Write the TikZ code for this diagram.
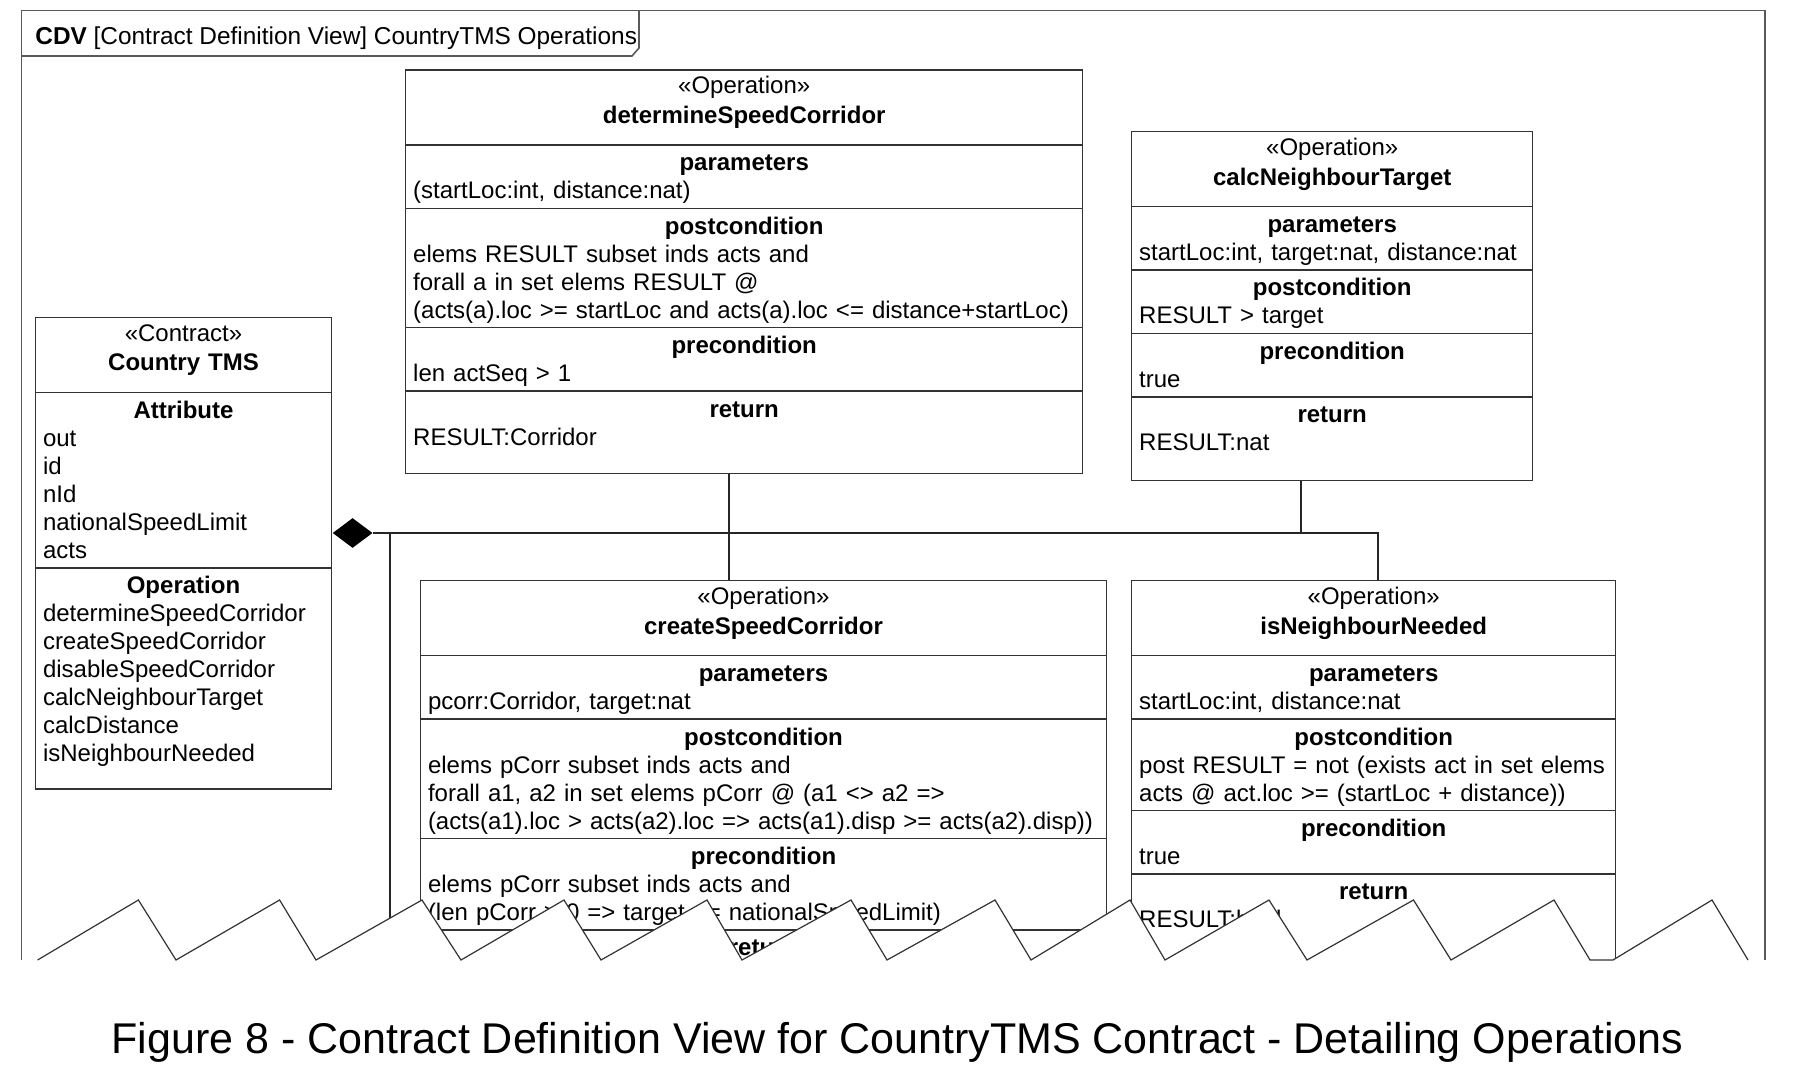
\documentclass[tikz,border=0pt]{standalone}
\usepackage{fontspec}
\setmainfont{Liberation Sans}
\usetikzlibrary{shapes.multipart,shapes.geometric}

\newcommand{\stereo}[2]{\makebox[\linewidth]{\rule{0pt}{11.5pt}«#1»}\\[0.9pt]\makebox[\linewidth]{\textbf{#2}\rule[-10.4pt]{0pt}{10.4pt}}}
\newcommand{\comphead}[1]{\makebox[\linewidth]{\rule{0pt}{12.6pt}\textbf{#1}}}
\newcommand{\lastline}[1][4.4pt]{\rule[-#1]{0pt}{#1}}

\begin{document}
\begin{tikzpicture}[x=0.5pt,y=-0.5pt,
  umlbox/.style={rectangle split, rectangle split parts=#1, draw=black!80, line width=0.7pt,
    inner xsep=3.75pt, inner ysep=0pt, align=left, anchor=north west,
    font=\fontsize{12}{14}\selectfont},
  link/.style={draw=black!85, line width=0.6pt}]
\path[fill=white, use as bounding box] (0,0) rectangle (1820,1069);

% frame
\draw[black!65, line width=0.8pt] (21.4,10.7) rectangle (1765,1000);
\draw[black!65, line width=0.8pt] (21.4,56) -- (632,56) -- (639,48) -- (639,10.7);
\node[anchor=base west, inner sep=0, font=\fontsize{12.2}{14}\selectfont] (frm) at (35,45)
  {\textbf{CDV} [Contract Definition View] CountryTMS Operations};

% contract
\node[umlbox=3, text width=140.5pt] (ctr) at (34.8,316.7)
  {\stereo{Contract}{Country TMS}
   \nodepart{two}\comphead{Attribute}\\
   out\\ id\\ nId\\ nationalSpeedLimit\\ acts\lastline
   \nodepart{three}\comphead{Operation}\\
   determineSpeedCorridor\\ createSpeedCorridor\\ disableSpeedCorridor\\
   calcNeighbourTarget\\ calcDistance\\ isNeighbourNeeded\lastline[13.3pt]};

% operations
\node[umlbox=5, text width=331pt] (det) at (405,69.3)
  {\stereo{Operation}{determineSpeedCorridor}
   \nodepart{two}\comphead{parameters}\\
   (startLoc:int, distance:nat)\lastline
   \nodepart{three}\comphead{postcondition}\\
   elems RESULT subset inds acts and\\
   forall a in set elems RESULT @\\
   (acts(a).loc >= startLoc and acts(a).loc <= distance+startLoc)\lastline
   \nodepart{four}\comphead{precondition}\\
   len actSeq > 1\lastline
   \nodepart{five}\comphead{return}\\
   RESULT:Corridor\lastline[13.8pt]};

\node[umlbox=5, text width=193pt] (cnt) at (1131,131)
  {\stereo{Operation}{calcNeighbourTarget}
   \nodepart{two}\comphead{parameters}\\
   startLoc:int, target:nat, distance:nat\lastline
   \nodepart{three}\comphead{postcondition}\\
   RESULT > target\lastline
   \nodepart{four}\comphead{precondition}\\
   true\lastline
   \nodepart{five}\comphead{return}\\
   RESULT:nat\lastline[14.4pt]};

\node[umlbox=5, text width=335.5pt] (crt) at (419.8,580)
  {\stereo{Operation}{createSpeedCorridor}
   \nodepart{two}\comphead{parameters}\\
   pcorr:Corridor, target:nat\lastline
   \nodepart{three}\comphead{postcondition}\\
   elems pCorr subset inds acts and\\
   forall a1, a2 in set elems pCorr @ (a1 <> a2 =>\\
   (acts(a1).loc > acts(a2).loc => acts(a1).disp >= acts(a2).disp))\lastline
   \nodepart{four}\comphead{precondition}\\
   elems pCorr subset inds acts and\\
   (len pCorr > 0 => target <= nationalSpeedLimit)\lastline
   \nodepart{five}\comphead{return}\lastline[20pt]};

\node[umlbox=5, text width=234.5pt] (inn) at (1131,580)
  {\stereo{Operation}{isNeighbourNeeded}
   \nodepart{two}\comphead{parameters}\\
   startLoc:int, distance:nat\lastline
   \nodepart{three}\comphead{postcondition}\\
   post RESULT = not (exists act in set elems\\
   acts @ act.loc >= (startLoc + distance))\lastline
   \nodepart{four}\comphead{precondition}\\
   true\lastline
   \nodepart{five}\comphead{return}\\
   RESULT:bool\lastline[30pt]};

% composition
\node[diamond, fill=black, inner sep=0pt, minimum width=20pt, minimum height=15pt, anchor=west]
  (dia) at (ctr.east |- 0,533) {};
\coordinate (j1) at (729,533);
\coordinate (j2) at (1301,533);
\coordinate (j3) at (1378,533);
\coordinate (cut) at (390,1000);
\draw[link] (dia.east) -| (cut);
\draw[link] (dia.east) -| (det.south -| j1);
\draw[link] (dia.east) -| (crt.north -| j1);
\draw[link] (dia.east) -| (cnt.south -| j2);
\draw[link] (dia.east) -| (inn.north -| j3);

% torn edge
\fill[white] (0,960) -- (37.6,960)
  \foreach \a/\p/\v in {37.6/138.4/176,176/279.6/316,316/422/461,461/564/601,601/707/742,742/851/887,
    887/995/1031,1031/1130/1165,1165/1269/1307,1307/1413.5/1451,1451/1554/1590,1613/1712/1748}
    { -- (\a,960) -- (\p,900) -- (\v,960) }
  -- (1820,960) -- (1820,1015) -- (0,1015) -- cycle;
\draw[black!80, line width=0.6pt] (37.6,960)
  \foreach \a/\p/\v in {37.6/138.4/176,176/279.6/316,316/422/461,461/564/601,601/707/742,742/851/887,
    887/995/1031,1031/1130/1165,1165/1269/1307,1307/1413.5/1451,1451/1554/1590,1613/1712/1748}
    { -- (\a,960) -- (\p,900) -- (\v,960) };

\node[anchor=base, inner sep=0, font=\fontsize{21.5}{26}\selectfont] (cap) at (897.5,1053)
  {Figure 8 - Contract Definition View for CountryTMS Contract - Detailing Operations};
\end{tikzpicture}
\end{document}
